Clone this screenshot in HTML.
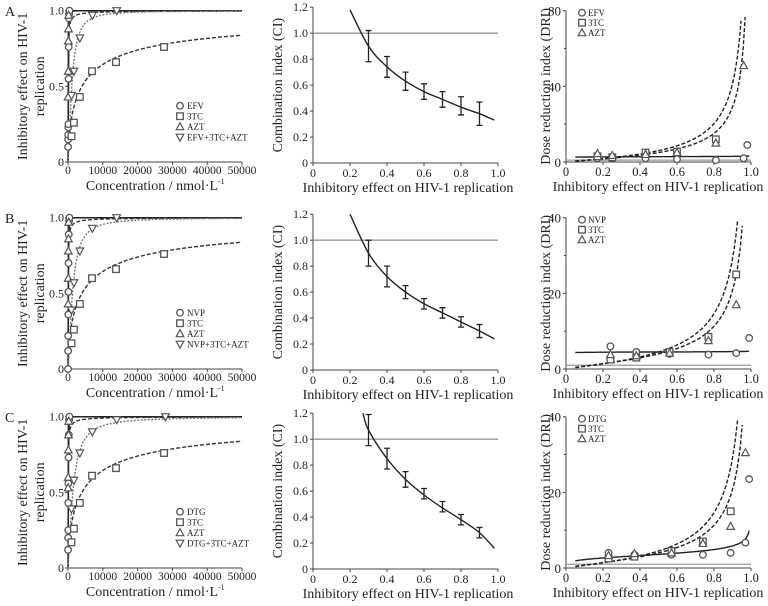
<!DOCTYPE html>
<html><head><meta charset="utf-8"><style>
body{margin:0;background:#fff}
svg{display:block;font-family:"Liberation Serif",serif}
</style></head><body>
<svg id="fig" width="768" height="606" viewBox="0 0 768 606"></svg>
<script>
// ---------- DATA ----------
const rowLetters=["A","B","C"];
const drug1Names=["EFV","NVP","DTG"];
const comboNames=["EFV+3TC+AZT","NVP+3TC+AZT","DTG+3TC+AZT"];
// Left panels: dose-effect points (concentration nmol/L, effect)
const d1Conc=[[20,40,60,90,120,160,200,260,320,400],[20,40,60,90,120,160,220,300,400],[20,40,60,90,120,160,220,300,400]];
const d1Eff=[[0.1,0.15,0.18,0.23,0.25,0.55,0.76,0.95,0.98,1.0],[0.0,0.12,0.22,0.36,0.51,0.7,0.89,0.98,1.0],[0.12,0.2,0.25,0.43,0.56,0.73,0.88,0.98,1.0]];
const tcConc=[1000,1700,3400,6900,13800,27600];
const tcEff=[[0.17,0.26,0.43,0.6,0.66,0.76],[0.17,0.26,0.43,0.6,0.66,0.76],[0.17,0.26,0.43,0.61,0.66,0.76]];
const aztConc=[[40,70,100,140,200],[40,70,100,140,200],[40,70,100,140,200]];
const aztEff=[[0.43,0.6,0.8,0.88,0.97],[0.43,0.6,0.78,0.86,0.97],[0.53,0.6,0.78,0.88,0.97]];
const comboConc=[1000,1700,3400,7000,14000,28000];
const comboEff=[[0.44,0.6,0.82,0.97,1.0,null],[0.39,0.57,0.78,0.93,1.0,null],[0.39,0.58,0.76,0.9,0.98,1.0]];
// median-effect fit parameters [Dm, m]
const fitD1=[[140,2.5],[120,2.5],[110,2.5]];
const fitTC=[[4000,0.65],[4000,0.65],[4000,0.65]];
const fitAZT=[[30,0.8],[30,0.8],[30,0.8]];
const fitCombo=[[1100,1.6],[1300,1.5],[1400,1.4]];
// Middle: combination index
const ciFa=[0.3,0.4,0.5,0.6,0.7,0.8,0.9];
const ciVal=[[0.9,0.74,0.63,0.55,0.49,0.44,0.38],[0.9,0.72,0.6,0.51,0.44,0.37,0.3],[1.07,0.85,0.69,0.58,0.48,0.38,0.28]];
const ciErr=[[0.12,0.08,0.07,0.06,0.06,0.07,0.09],[0.1,0.08,0.05,0.04,0.04,0.04,0.05],[0.12,0.08,0.06,0.04,0.04,0.04,0.04]];
const ciCurveFa=[[0.2,0.3,0.4,0.5,0.6,0.7,0.8,0.9,0.98],[0.2,0.3,0.4,0.5,0.6,0.7,0.8,0.9,0.98],[0.27,0.3,0.4,0.5,0.6,0.7,0.8,0.9,0.98]];
const ciCurveVal=[[1.18,0.9,0.74,0.63,0.55,0.49,0.43,0.38,0.33],[1.2,0.9,0.72,0.6,0.51,0.44,0.37,0.3,0.24],[1.2,1.07,0.85,0.69,0.57,0.47,0.38,0.28,0.16]];
// Right: dose reduction index
const driMax=[80,40,40];
const driFa=[[0.17,0.25,0.43,0.6,0.81,0.96,0.98],[0.24,0.38,0.56,0.77,0.92,0.99],[0.23,0.37,0.57,0.74,0.89,0.97,0.99]];
const driD1=[[2,2,2,1.5,1,2,9],[6,4.5,4,3.8,4.2,8.2],[4,3.5,3.5,3.5,4,6.7,23.5]];
const driTC=[[3,2.5,5,5.5,12,null,null],[2.5,3,4.5,8.5,25,null],[2.5,3,4.5,7,15,null,null]];
const driAZT=[[4.5,3.5,4,5,10,51,null],[3.8,3.5,4.2,7.5,17,null],[3.3,3.8,4,6.5,11,30.5,null]];
// DRI fit curves: DRI = a*(fa/(1-fa))^b
const driFitTC=[[6,0.88],[4.5,0.85],[4.5,0.85]];
const driFitAZT=[[5,0.8],[4,0.75],[4,0.75]];
const driFitD1=[[2.8,0.03],[4.5,0.01],[3.6,0.22]];
// ---------- DRAW ----------
const NS="http://www.w3.org/2000/svg";
const svg=document.getElementById("fig");
function mk(tag,attrs,parent,name,inter){const e=document.createElementNS(NS,tag);for(const k in attrs)e.setAttribute(k,attrs[k]);


(parent||svg).appendChild(e);return e;}
function txt(x,y,s,attrs,parent,name){const t=mk("text",Object.assign({x:x,y:y,"font-size":12,fill:"#222"},attrs||{}),parent,name,false);t.textContent=s;return t;}
const rowOff=[0,207,406];
const STK="#444";
function marker(g,type,x,y,name){
 if(type==="c")mk("circle",{cx:x,cy:y,r:3.3,fill:"#fff",stroke:"#555","stroke-width":1.3},g,name,false);
 else if(type==="s")mk("rect",{x:x-3.3,y:y-3.3,width:6.6,height:6.6,fill:"#fff",stroke:"#555","stroke-width":1.3},g,name,false);
 else if(type==="t")mk("path",{d:`M${x},${y-4}L${x+3.8},${y+3}L${x-3.8},${y+3}Z`,fill:"#fff",stroke:"#555","stroke-width":1.2},g,name,false);
 else mk("path",{d:`M${x},${y+4}L${x+3.8},${y-3}L${x-3.8},${y-3}Z`,fill:"#fff",stroke:"#555","stroke-width":1.2},g,name,false);
}
function pathFrom(pts){return pts.map((p,i)=>(i?"L":"M")+p[0].toFixed(1)+","+p[1].toFixed(1)).join("");}
function smooth(pts){let d="M"+pts[0][0]+","+pts[0][1];for(let i=0;i<pts.length-1;i++){const p0=pts[i-1]||pts[i],p1=pts[i],p2=pts[i+1],p3=pts[i+2]||p2;
 d+=`C${p1[0]+(p2[0]-p0[0])/6},${p1[1]+(p2[1]-p0[1])/6} ${p2[0]-(p3[0]-p1[0])/6},${p2[1]-(p3[1]-p1[1])/6} ${p2[0]},${p2[1]}`;}return d;}

for(let r=0;r<3;r++){
 const o=rowOff[r];
 const top=10.7+o, bot=162+o;
 txt(5,16+o,rowLetters[r],{"font-size":14},null,"panel-label-"+rowLetters[r].toLowerCase());
 // ===== LEFT =====
 {const g=mk("g",{},svg,"dose-effect-chart-"+r,false);
  const x0=68,x1=242;
  const X=v=>x0+(x1-x0)*v/50000, Y=v=>bot-(bot-top)*v;
  mk("line",{x1:x0,y1:top-2,x2:x0,y2:bot,stroke:STK,"stroke-width":1},g,"y-axis",false);
  mk("line",{x1:x0,y1:bot,x2:x1,y2:bot,stroke:STK,"stroke-width":1},g,"x-axis",false);
  [0,0.5,1].forEach(v=>{mk("line",{x1:x0-3,y1:Y(v),x2:x0,y2:Y(v),stroke:STK},g,"y-tick",false);
   txt(x0-4,Y(v)+4,v===0?"0":v.toFixed(1),{"text-anchor":"end"},g,"y-tick-label");});
  [0,10000,20000,30000,40000,50000].forEach(v=>{mk("line",{x1:X(v),y1:bot,x2:X(v),y2:bot+3,stroke:STK},g,"x-tick",false);
   txt(X(v),bot+12,String(v),{"text-anchor":"middle","font-size":11.5},g,"x-tick-label");});
  txt(152,bot+28,"Concentration / nmol·L",{"text-anchor":"middle","font-size":14},g,"x-axis-title");
  txt(218,bot+22,"-1",{"font-size":8},g,"x-axis-title-sup");
  const cy=(top+bot)/2;
  txt(0,0,"Inhibitory effect on HIV-1",{"text-anchor":"middle","font-size":14,transform:`translate(27,${cy}) rotate(-90)`},g,"y-axis-title-line1");
  txt(0,0,"replication",{"text-anchor":"middle","font-size":14,transform:`translate(44,${cy}) rotate(-90)`},g,"y-axis-title-line2");
  mk("line",{x1:X(0),y1:Y(1),x2:x1,y2:Y(1),stroke:"#222","stroke-width":1.5},g,"plateau-line",false);
  function fitCurve(par,dash,col,w,name){const pts=[];for(let i=0;i<=400;i++){const D=50000*Math.pow(i/400,3);const f=D<=0?0:1/(1+Math.pow(par[0]/D,par[1]));pts.push([X(D),Y(f)]);}
   mk("path",{d:pathFrom(pts),fill:"none",stroke:col,"stroke-width":w,"stroke-dasharray":dash},g,name,false);}
  fitCurve(fitD1[r],"none","#222",1.5,"curve-drug1");
  fitCurve(fitAZT[r],"4,2","#333",1.3,"curve-azt");
  fitCurve(fitTC[r],"4,2","#333",1.4,"curve-3tc");
  fitCurve(fitCombo[r],"2,1.5","#777",1.4,"curve-combo");
  d1Conc[r].forEach((c,i)=>marker(g,"c",X(c),Y(d1Eff[r][i]),"point-drug1"));
  tcConc.forEach((c,i)=>marker(g,"s",X(c),Y(tcEff[r][i]),"point-3tc"));
  aztConc[r].forEach((c,i)=>marker(g,"t",X(c),Y(aztEff[r][i]),"point-azt"));
  comboConc.forEach((c,i)=>{if(comboEff[r][i]!=null)marker(g,"v",X(c),Y(comboEff[r][i]),"point-combo");});
  const lg=mk("g",{},g,"legend",false);
  const labels=[drug1Names[r],"3TC","AZT",comboNames[r]],types=["c","s","t","v"];
  labels.forEach((l,i)=>{const ly=top+95+i*10.5;marker(lg,types[i],180,ly,"legend-marker");txt(187,ly+3.5,l,{"font-size":9},lg,"legend-entry");});
 }
 // ===== MIDDLE =====
 {const g=mk("g",{},svg,"combination-index-chart-"+r,false);
  const x0=313,x1=498, mt=top-3.5, mb=bot+1;
  const X=v=>x0+(x1-x0)*v, Y=v=>mb-(mb-mt)*v/1.2;
  mk("line",{x1:x0,y1:mt,x2:x0,y2:mb,stroke:STK},g,"y-axis",false);
  mk("line",{x1:x0,y1:mb,x2:x1,y2:mb,stroke:STK},g,"x-axis",false);
  [0,0.2,0.4,0.6,0.8,1.0,1.2].forEach(v=>{mk("line",{x1:x0-3,y1:Y(v),x2:x0,y2:Y(v),stroke:STK},g,"y-tick",false);
   txt(x0-5,Y(v)+4,v===0?"0":v.toFixed(1),{"text-anchor":"end"},g,"y-tick-label");});
  [0,0.2,0.4,0.6,0.8,1.0].forEach(v=>{mk("line",{x1:X(v),y1:mb,x2:X(v),y2:mb+3,stroke:STK},g,"x-tick",false);
   txt(X(v),mb+14,v===0?"0":v.toFixed(1),{"text-anchor":"middle"},g,"x-tick-label");});
  txt(408,mb+29,"Inhibitory effect on HIV-1 replication",{"text-anchor":"middle","font-size":14},g,"x-axis-title");
  txt(0,0,"Combination index (CI)",{"text-anchor":"middle","font-size":14,transform:`translate(282,${(mt+mb)/2}) rotate(-90)`},g,"y-axis-title");
  mk("line",{x1:x0,y1:Y(1),x2:x1,y2:Y(1),stroke:"#999","stroke-width":1.3},g,"ci-reference-line",false);
  const cp=ciCurveFa[r].map((f,i)=>[X(f),Y(ciCurveVal[r][i])]);
  mk("path",{d:smooth(cp),fill:"none",stroke:"#222","stroke-width":1.4},g,"ci-curve",false);
  ciFa.forEach((f,i)=>{const v=ciVal[r][i],e=ciErr[r][i],x=X(f);
   mk("path",{d:`M${x},${Y(v-e)}L${x},${Y(v+e)}M${x-3},${Y(v-e)}L${x+3},${Y(v-e)}M${x-3},${Y(v+e)}L${x+3},${Y(v+e)}`,stroke:"#222","stroke-width":1.3,fill:"none"},g,"ci-error-bar",false);});
 }
 // ===== RIGHT =====
 {const g=mk("g",{},svg,"dose-reduction-chart-"+r,false);
  const x0=566,x1=751, M=driMax[r];
  const X=v=>x0+(x1-x0)*v, Y=v=>bot-(bot-top)*v/M;
  mk("line",{x1:x0,y1:top,x2:x0,y2:bot,stroke:STK},g,"y-axis",false);
  mk("line",{x1:x0,y1:bot,x2:x1,y2:bot,stroke:STK},g,"x-axis",false);
  [0,M/2,M].forEach(v=>{mk("line",{x1:x0-3,y1:Y(v),x2:x0,y2:Y(v),stroke:STK},g,"y-tick",false);
   txt(x0-5,Y(v)+5,String(v),{"text-anchor":"end","font-size":13},g,"y-tick-label");});
  [M/4,3*M/4].forEach(v=>mk("line",{x1:x0-2,y1:Y(v),x2:x0,y2:Y(v),stroke:STK},g,"y-minor-tick",false));
  [0,0.2,0.4,0.6,0.8,1.0].forEach(v=>{mk("line",{x1:X(v),y1:bot,x2:X(v),y2:bot+3,stroke:STK},g,"x-tick",false);
   txt(X(v),bot+14,v===0?"0":v.toFixed(1),{"text-anchor":"middle","font-size":12.5},g,"x-tick-label");});
  txt(658,bot+29,"Inhibitory effect on HIV-1 replication",{"text-anchor":"middle","font-size":14},g,"x-axis-title");
  txt(0,0,"Dose reduction index (DRI)",{"text-anchor":"middle","font-size":14,transform:`translate(550,${(top+bot)/2}) rotate(-90)`},g,"y-axis-title");
  mk("line",{x1:x0,y1:Y(1),x2:x1,y2:Y(1),stroke:"#999","stroke-width":1.3},g,"dri-reference-line",false);
  function driCurve(p,dash,w,name){const pts=[];for(let i=0;i<=300;i++){const f=0.05+0.94*i/300;const v=p[0]*Math.pow(f/(1-f),p[1]);if(v>M*0.98)break;pts.push([X(f),Y(v)]);}
   mk("path",{d:pathFrom(pts),fill:"none",stroke:"#222","stroke-width":w,"stroke-dasharray":dash},g,name,false);}
  driCurve(driFitTC[r],"4,2",1.4,"dri-curve-3tc");
  driCurve(driFitAZT[r],"4,2",1.4,"dri-curve-azt");
  driCurve(driFitD1[r],"none",1.4,"dri-curve-drug1");
  driFa[r].forEach((f,i)=>{
   if(driD1[r][i]!=null)marker(g,"c",X(f),Y(driD1[r][i]),"dri-point-drug1");
   if(driTC[r][i]!=null)marker(g,"s",X(f),Y(driTC[r][i]),"dri-point-3tc");
   if(driAZT[r][i]!=null)marker(g,"t",X(f),Y(driAZT[r][i]),"dri-point-azt");});
  const lg=mk("g",{},g,"legend",false);
  [drug1Names[r],"3TC","AZT"].forEach((l,i)=>{const ly=top+2+i*10;marker(lg,["c","s","t"][i],582,ly,"legend-marker");txt(588,ly+3.5,l,{"font-size":9},lg,"legend-entry");});
 }
}
</script>
</body></html>
